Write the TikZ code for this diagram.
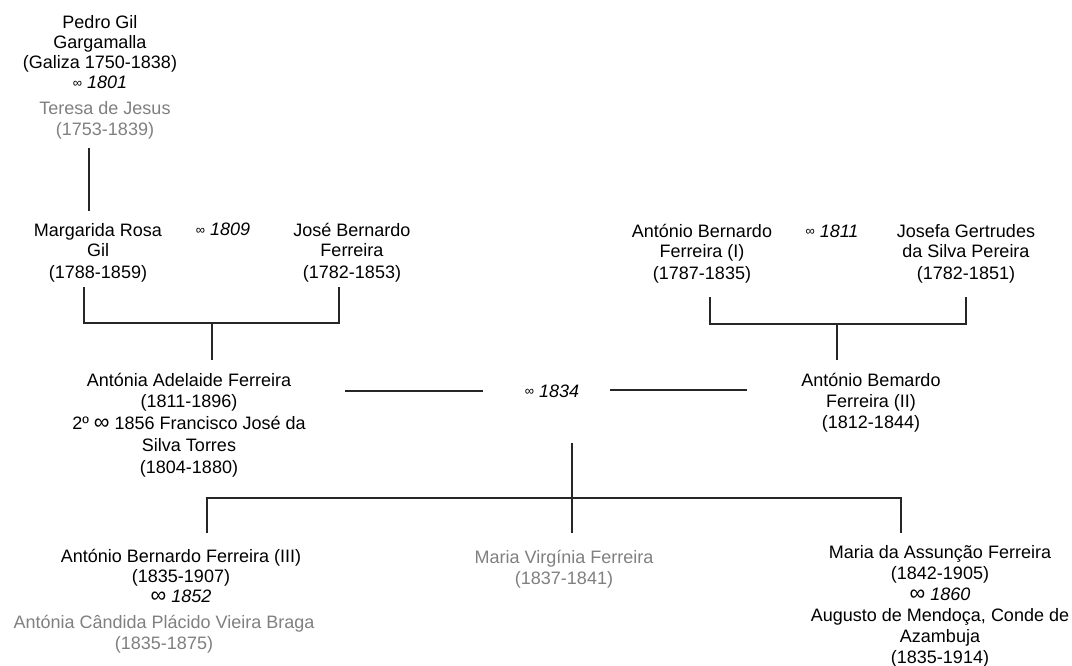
\documentclass[tikz,border=0pt]{standalone}
\usepackage{fontspec}
\setmainfont{Liberation Sans}
\definecolor{lgray}{HTML}{808080}
\definecolor{lcol}{HTML}{262626}
\newcommand{\sinf}{\raisebox{1.5pt}{\fontsize{13}{13}\selectfont ∞}}
\newcommand{\binf}{{\fontsize{22}{22}\selectfont ∞}}
\begin{document}
\begin{tikzpicture}[x=1pt,y=-1pt,
  person/.style={inner sep=0pt, anchor=base, align=center, font=\fontsize{18}{21}\selectfont},
  tight/.style={person, font=\fontsize{18}{20}\selectfont},
  spouse/.style={person, text=lgray},
  link/.style={draw=lcol, line width=1.4pt}]
\useasboundingbox (0,0) rectangle (1072,666);
\fill[white] (0,0) rectangle (1072,666);
% generation 1 (node base = baseline of the last line)
\node[tight] (pedro) at (100,89) {Pedro Gil\\Gargamalla\\(Galiza 1750-1838)\\\sinf\ \textit{1801}};
\node[spouse] (teresa) at (105,136) {Teresa de Jesus\\(1753-1839)};
% generation 2
\node[person] (margarida) at (98,278) {Margarida Rosa\\Gil\\(1788-1859)};
\node[person] (m1809) at (223,236) {\sinf\ \textit{1809}};
\node[person] (jose) at (352,278) {José Bernardo\\Ferreira\\(1782-1853)};
\node[person] (antonio1) at (702,279) {António Bernardo\\Ferreira (I)\\(1787-1835)};
\node[person] (m1811) at (832,237) {\sinf\ \textit{1811}};
\node[person] (josefa) at (966,279) {Josefa Gertrudes\\da Silva Pereira\\(1782-1851)};
% generation 3
\node[person, font=\fontsize{18}{21.7}\selectfont] (antonia) at (189,473) {Antónia Adelaide Ferreira\\(1811-1896)\\2º \binf\ 1856 Francisco José da\\Silva Torres\\(1804-1880)};
\node[person] (m1834) at (552,397) {\sinf\ \textit{1834}};
\node[person] (antonio2) at (871,428) {António Bemardo\\Ferreira (II)\\(1812-1844)};
% generation 4
\node[tight] (antonio3) at (181,602) {António Bernardo Ferreira (III)\\(1835-1907)\\\binf\ \textit{1852}};
\node[spouse] (candida) at (164,649) {Antónia Cândida Plácido Vieira Braga\\(1835-1875)};
\node[spouse] (virginia) at (564,584) {Maria Virgínia Ferreira\\(1837-1841)};
\node[person] (assuncao) at (940,663) {Maria da Assunção Ferreira\\(1842-1905)\\\binf\ \textit{1860}\\Augusto de Mendoça, Conde de\\Azambuja\\(1835-1914)};
% connector coordinates
\coordinate (g1a) at (89,148);
\coordinate (g1b) at (89,211);
\coordinate (lbA) at (84,287);
\coordinate (lbB) at (84,323);
\coordinate (lbC) at (339,323);
\coordinate (lbD) at (339,287);
\coordinate (lbM) at (212,323);
\coordinate (lbS) at (212,360);
\coordinate (rbA) at (710,297);
\coordinate (rbB) at (710,324);
\coordinate (rbC) at (966,324);
\coordinate (rbD) at (966,297);
\coordinate (rbM) at (837,324);
\coordinate (rbS) at (837,360);
\coordinate (mlA) at (345,391);
\coordinate (mlB) at (483,391);
\coordinate (mrA) at (610,390);
\coordinate (mrB) at (747,390);
\coordinate (chT) at (572,443);
\coordinate (chM) at (572,498);
\coordinate (chV) at (572,533);
\coordinate (chL) at (207,498);
\coordinate (chLd) at (207,533);
\coordinate (chR) at (901,498);
\coordinate (chRd) at (901,533);
% connectors
\draw[link] (g1a) -- (g1b);
\draw[link] (lbA) -- (lbB) -- (lbC) -- (lbD);
\draw[link] (lbM) -- (lbS);
\draw[link] (rbA) -- (rbB) -- (rbC) -- (rbD);
\draw[link] (rbM) -- (rbS);
\draw[link] (mlA) -- (mlB);
\draw[link] (mrA) -- (mrB);
\draw[link] (chT) -- (chV);
\draw[link] (chLd) -- (chL) -- (chR) -- (chRd);
\end{tikzpicture}
\end{document}
